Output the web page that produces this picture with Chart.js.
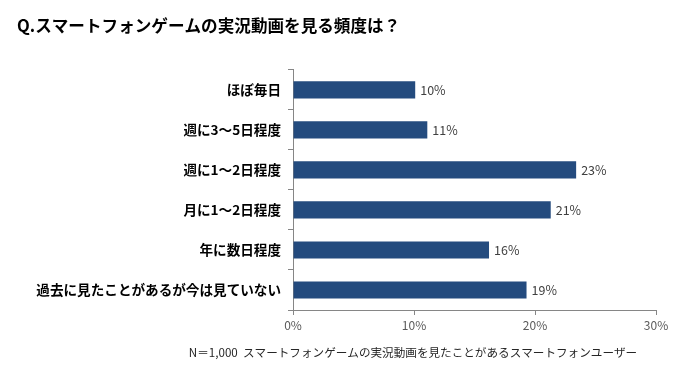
<!DOCTYPE html>
<html>
<head>
<meta charset="utf-8">
<script src="https://cdn.jsdelivr.net/npm/chart.js@4"></script>
<style>
  body { margin: 0; background: #fff; }
</style>
</head>
<body>
<canvas id="chart" width="683" height="369"></canvas>
<script>
const categories = ['ほぼ毎日', '週に3～5日程度', '週に1～2日程度', '月に1～2日程度', '年に数日程度', '過去に見たことがあるが今は見ていない'];
const values = [10.1, 11.1, 23.4, 21.3, 16.2, 19.3];
const tickValues = [0, 10, 20, 30];
const titleText = 'Q.スマートフォンゲームの実況動画を見る頻度は？';
const footText = 'N＝1,000  スマートフォンゲームの実況動画を見たことがあるスマートフォンユーザー';

const jp = '"Noto Sans CJK JP", sans-serif';

// value labels at the end of each bar
const barLabels = {
    id: 'barLabels',
    afterDatasetsDraw(chart) {
        const ctx = chart.ctx;
        const meta = chart.getDatasetMeta(0);
        ctx.save();
        ctx.font = '12.5px ' + jp;
        ctx.fillStyle = '#404040';
        ctx.textAlign = 'left';
        ctx.textBaseline = 'middle';
        meta.data.forEach((bar, i) => {
            ctx.fillText(Math.round(values[i]) + '%', bar.x + 5, bar.y);
        });
        ctx.restore();
    }
};

// footnote under the axis
const footnote = {
    id: 'footnote',
    afterDraw(chart) {
        const ctx = chart.ctx;
        ctx.save();
        ctx.font = '11.6px ' + jp;
        ctx.fillStyle = '#262626';
        ctx.textAlign = 'center';
        ctx.textBaseline = 'middle';
        ctx.fillText(footText, 413, chart.chartArea.bottom + 43);
        ctx.restore();
    }
};

new Chart(document.getElementById('chart'), {
    type: 'bar',
    data: {
        labels: categories,
        datasets: [{
            data: values,
            backgroundColor: '#244B7E',
            barPercentage: 0.86,
            categoryPercentage: 0.5
        }]
    },
    options: {
        indexAxis: 'y',
        responsive: false,
        animation: false,
        devicePixelRatio: 1,
        layout: { padding: { left: 17, right: 27, top: 0, bottom: 31 } },
        scales: {
            x: {
                min: 0,
                max: 30,
                afterBuildTicks(scale) {
                    scale.ticks = tickValues.map(v => ({ value: v }));
                },
                afterFit(scale) { scale.height = 28; },
                grid: { drawOnChartArea: false, tickLength: 5, color: '#868686' },
                border: { color: '#868686' },
                ticks: {
                    padding: 3,
                    color: '#595959',
                    font: { size: 12, family: jp },
                    callback: v => v + '%'
                }
            },
            y: {
                afterFit(scale) { scale.width = 276; },
                grid: { drawOnChartArea: false, offset: true, tickLength: 5, color: '#868686' },
                border: { color: '#868686' },
                ticks: {
                    padding: 7,
                    color: '#000',
                    font: { size: 13.6, weight: 'bold', family: jp }
                }
            }
        },
        plugins: {
            legend: { display: false },
            tooltip: { enabled: false },
            title: {
                display: true,
                text: titleText,
                align: 'start',
                color: '#000',
                font: { size: 16.6, weight: 'bold', family: jp },
                padding: { top: 16, bottom: 34 }
            }
        }
    },
    plugins: [barLabels, footnote]
});
</script>
</body>
</html>
